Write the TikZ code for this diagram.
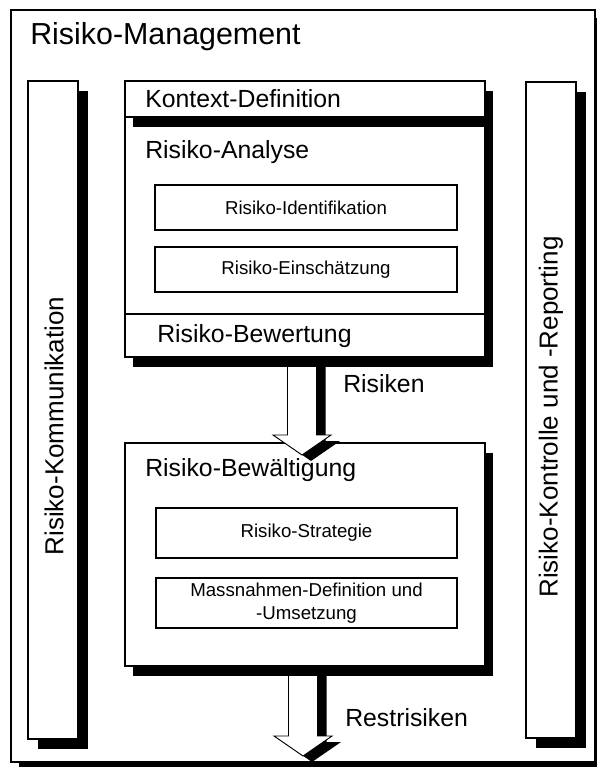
\documentclass[tikz,border=0pt]{standalone}
\usepackage{fontspec}
\setmainfont{Liberation Sans}
\usetikzlibrary{fit,calc,shadows}
\newcommand\BlkArrow[2]{%
  \fill[black] ($(#1)+(-5.5,6)$) -- ++(0,#2) -- ++(-14.5,0) -- ++(29,20) -- ++(29,-20) -- ++(-14.5,0) -- ++(0,-#2) -- cycle;
  \draw[fill=white, line width=0.7pt] ($(#1)+(-14.5,0)$) -- ++(0,#2) -- ++(-14.5,0) -- ++(29,20) -- ++(29,-20) -- ++(-14.5,0) -- ++(0,-#2) -- cycle;
}
\begin{document}
\begin{tikzpicture}[x=0.75pt,y=-0.75pt,
  outerbox/.style={draw=black, line width=1.1pt, fill=white, inner sep=0pt,
    drop shadow={shadow xshift=6pt, shadow yshift=-6pt, fill=black, opacity=1, draw=none}},
  vbox/.style={draw=black, line width=1.5pt, fill=white, inner sep=0pt,
    drop shadow={shadow xshift=7.5pt, shadow yshift=-7.5pt, fill=black, opacity=1, draw=none}},
  mainbox/.style={draw=black, line width=1.5pt, fill=white, inner sep=0pt,
    drop shadow={shadow xshift=6pt, shadow yshift=-7.5pt, fill=black, opacity=1, draw=none}},
  subbox/.style={draw=black, line width=0.8pt, fill=white, inner sep=0pt},
  titletxt/.style={font=\fontsize{22.8}{26}\selectfont, anchor=west, inner sep=0pt},
  bigtxt/.style={font=\fontsize{18.6}{22}\selectfont, anchor=west, inner sep=0pt},
  vtxt/.style={font=\fontsize{19.5}{22}\selectfont, rotate=90, inner sep=0pt},
  smalltxt/.style={font=\fontsize{14}{17}\selectfont, align=center, inner sep=0pt}
]
\useasboundingbox (0,0) rectangle (596,767);
% outer frame
\node[outerbox, fit={(11,10)(595,762)}] (outer) {};
\node[titletxt] (ttl) at (30,37) {Risiko-Management};
% side boxes
\node[vbox, fit={(28,81)(78,739)}] (komm) {};
\node[vtxt] (kommtxt) at (54,426) {Risiko-Kommunikation};
\node[vbox, fit={(526,82)(576,738)}] (kontr) {};
\node[vtxt] (kontrtxt) at (551,417) {Risiko-Kontrolle und -Reporting};
% arrow 2 (behind lower box)
\coordinate (a2) at (303,662);
\BlkArrow{a2}{74}
% lower box
\node[mainbox, fit={(125,443)(485,666)}] (bewaelt) {};
\node[bigtxt] (bewaelttxt) at (145,470) {Risiko-Bewältigung};
\node[subbox, fit={(156,508)(457,558)}] (strat) {};
\node[smalltxt] (strattxt) at (strat.center) {Risiko-Strategie};
\node[subbox, fit={(156,578)(457,628)}] (massn) {};
\node[smalltxt] (massntxt) at (massn.center) {Massnahmen-Definition und\\-Umsetzung};
% arrow 1 (over lower box, behind upper box)
\coordinate (a1) at (302,355);
\BlkArrow{a1}{80}
% upper boxes
\node[mainbox, fit={(125,117)(485,314)}] (analyse) {};
\node[bigtxt] (analysetxt) at (145,152) {Risiko-Analyse};
\node[mainbox, fit={(125,81)(485,117)}] (kontext) {};
\node[bigtxt] (kontexttxt) at (145,99) {Kontext-Definition};
\node[subbox, fit={(155,185)(457,230)}] (ident) {};
\node[smalltxt] (identtxt) at (ident.center) {Risiko-Identifikation};
\node[subbox, fit={(155,247)(457,292)}] (einsch) {};
\node[smalltxt] (einschtxt) at (einsch.center) {Risiko-Einschätzung};
\node[mainbox, fit={(125,314)(485,357)}] (bewert) {};
\node[bigtxt] (bewerttxt) at (157,336) {Risiko-Bewertung};
% arrow labels
\node[bigtxt] (risiken) at (343,384) {Risiken};
\node[bigtxt] (restr) at (345,718) {Restrisiken};
\end{tikzpicture}
\end{document}
